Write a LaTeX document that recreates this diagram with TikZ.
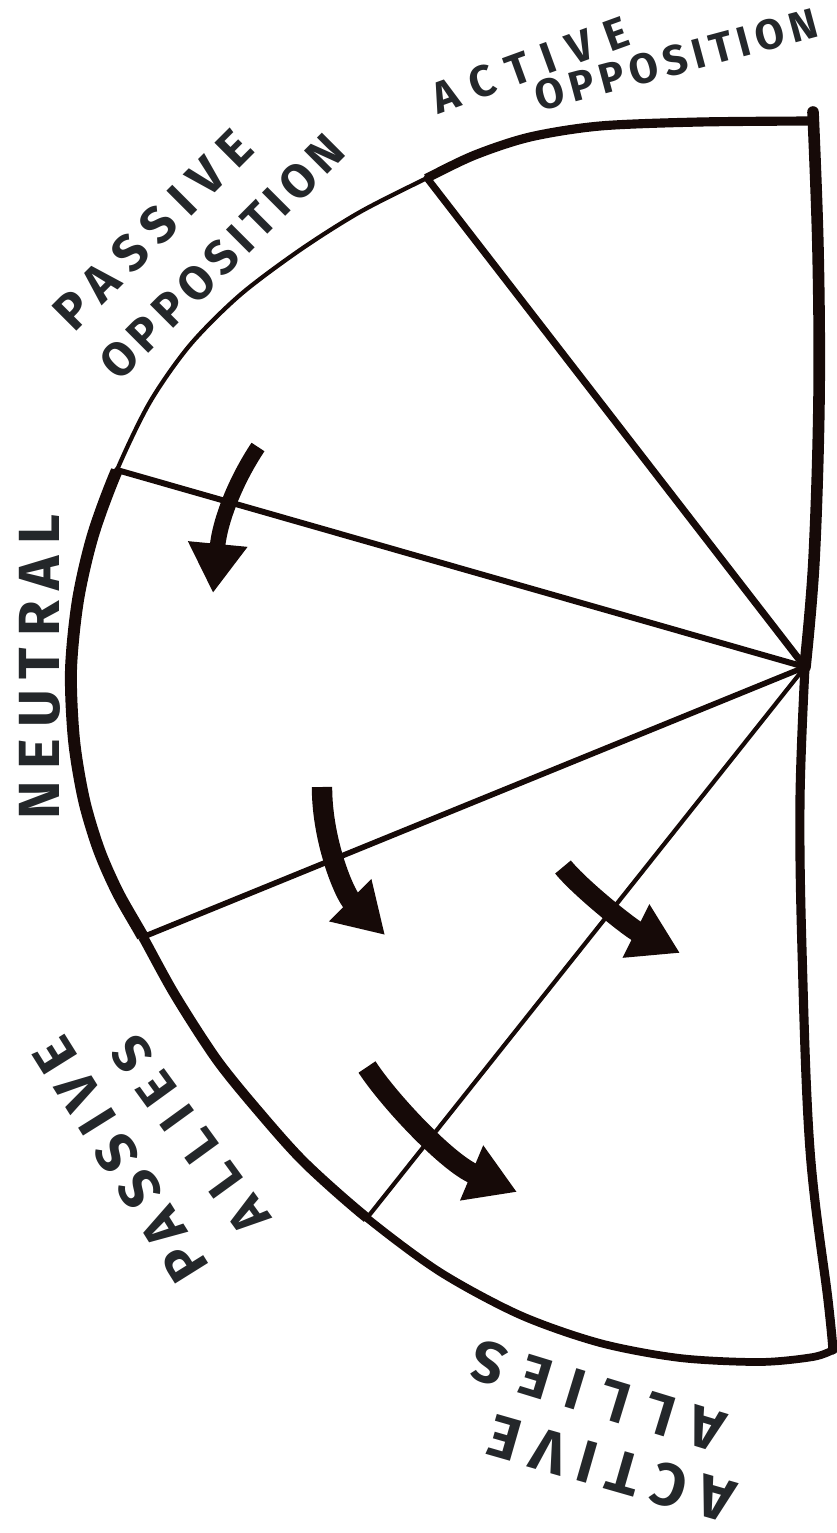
\documentclass[tikz,border=0pt]{standalone}
\usepackage{fontspec}
\newfontfamily\handfont{Fira Sans}
\usetikzlibrary{arrows.meta,calc}
\definecolor{ink}{RGB}{22,10,8}
\definecolor{pen}{RGB}{36,39,42}
\newcommand{\handlab}[3]{\handfont\bfseries\fontsize{#1}{#1}\selectfont\addfontfeatures{LetterSpace=#2}#3}
\newcommand{\rimpath}{plot[smooth, tension=0.5] coordinates {(tr) (700,122) (600,126) (530,137) (475,155) (c1) (360,212) (300,250) (240,295) (190,345) (150,402) (c2) (93,535) (78,600) (71,670) (74,740) (84,800) (99,850) (118,893) (c3) (175,995) (217,1060) (260,1113) (305,1163) (c4) (440,1272) (520,1315) (600,1343) (680,1358) (760,1362) (813,1357) (br)}}
\tikzset{
  rim/.style={draw=ink, line cap=round, line join=round},
  spoke/.style={draw=ink, line cap=round},
  flow/.style={draw=ink, line width=5.8pt, line cap=butt, -{Triangle[length=14pt,width=16pt]}},
  lbl/.style={text=pen, inner sep=0pt},
}
\begin{document}
\begin{tikzpicture}[x=0.01cm, y=-0.01cm]
\useasboundingbox (0,0) rectangle (837,1533);
% junction points
\coordinate (tr) at (812,121);
\coordinate (c1) at (427,178);
\coordinate (c2) at (117,470);
\coordinate (c3) at (143,937);
\coordinate (c4) at (367,1218);
\coordinate (br) at (833,1350);
\coordinate (o) at (805,667);
% rim of the half circle, thin everywhere
\draw[rim, line width=1.2pt] \rimpath;
% thicker stretches of the rim
\begin{scope}
  \clip (o) -- ($(o)!1.6!(c1)$) -- (837,0) -- cycle;
  \draw[rim, line width=2.6pt] \rimpath;
\end{scope}
\begin{scope}
  \clip (o) -- ($(o)!1.6!(c2)$) -- ($(o)!1.6!(c3)$) -- cycle;
  \draw[rim, line width=3.4pt] \rimpath;
\end{scope}
\begin{scope}
  \clip (o) -- ($(o)!1.6!(c3)$) -- ($(o)!1.6!(c4)$) -- cycle;
  \draw[rim, line width=2.8pt] \rimpath;
\end{scope}
\begin{scope}
  \clip (o) -- ($(o)!1.6!(c4)$) -- (837,1533) -- (837,667) -- cycle;
  \draw[rim, line width=2.2pt] \rimpath;
\end{scope}
% straight side
\draw[rim, line width=3.3pt] plot[smooth, tension=0.6] coordinates {(813,112) (818,250) (819,400) (814,560) (o)};
\draw[rim, line width=2.6pt] plot[smooth, tension=0.6] coordinates {(o) (800,800) (802,950) (810,1150) (828,1300) (br)};
% spokes
\draw[spoke, line width=2pt] (o) -- (c1);
\draw[spoke, line width=1.7pt] (o) -- (c2);
\draw[spoke, line width=1.6pt] (o) -- (c3);
\draw[spoke, line width=1.2pt] (o) -- (c4);
% arrows
\coordinate (a1s) at (258,447); \coordinate (a1e) at (213,593);
\coordinate (a2s) at (322,787); \coordinate (a2e) at (385,935);
\coordinate (a3s) at (563,867); \coordinate (a3e) at (680,953);
\coordinate (a4s) at (367,1067); \coordinate (a4e) at (517,1192);
\draw[flow, line width=4.4pt] (a1s) .. controls (236,480) and (220,520) .. (a1e);
\draw[flow] (a2s) .. controls (322,842) and (345,895) .. (a2e);
\draw[flow] (a3s) .. controls (580,888) and (630,928) .. (a3e);
\draw[flow] (a4s) .. controls (390,1102) and (448,1163) .. (a4e);
% labels
\node[lbl, rotate=20] (tActive) at (530,65) {\handlab{12.5}{32}{ACTIVE}};
\node[lbl, rotate=15] (tOpp) at (676,60) {\handlab{12}{14}{OPPOSITION}};
\node[lbl, rotate=45] (lPassive) at (153,230) {\handlab{14.5}{23}{PASSIVE}};
\node[lbl, rotate=45] (lOpp) at (222,257) {\handlab{13.5}{13}{OPPOSITION}};
\node[lbl, rotate=90] (nNeutral) at (40,667) {\handlab{16.5}{19}{NEUTRAL}};
\node[lbl, rotate=122] (pPassive) at (121,1160) {\handlab{16}{21}{PASSIVE}};
\node[lbl, rotate=126] (pAllies) at (190,1135) {\handlab{15}{27}{ALLIES}};
\node[lbl, rotate=163] (aAllies) at (598,1396) {\handlab{16.5}{30}{ALLIES}};
\node[lbl, rotate=164] (aActive) at (611,1469) {\handlab{17}{23}{ACTIVE}};
\end{tikzpicture}
\end{document}
